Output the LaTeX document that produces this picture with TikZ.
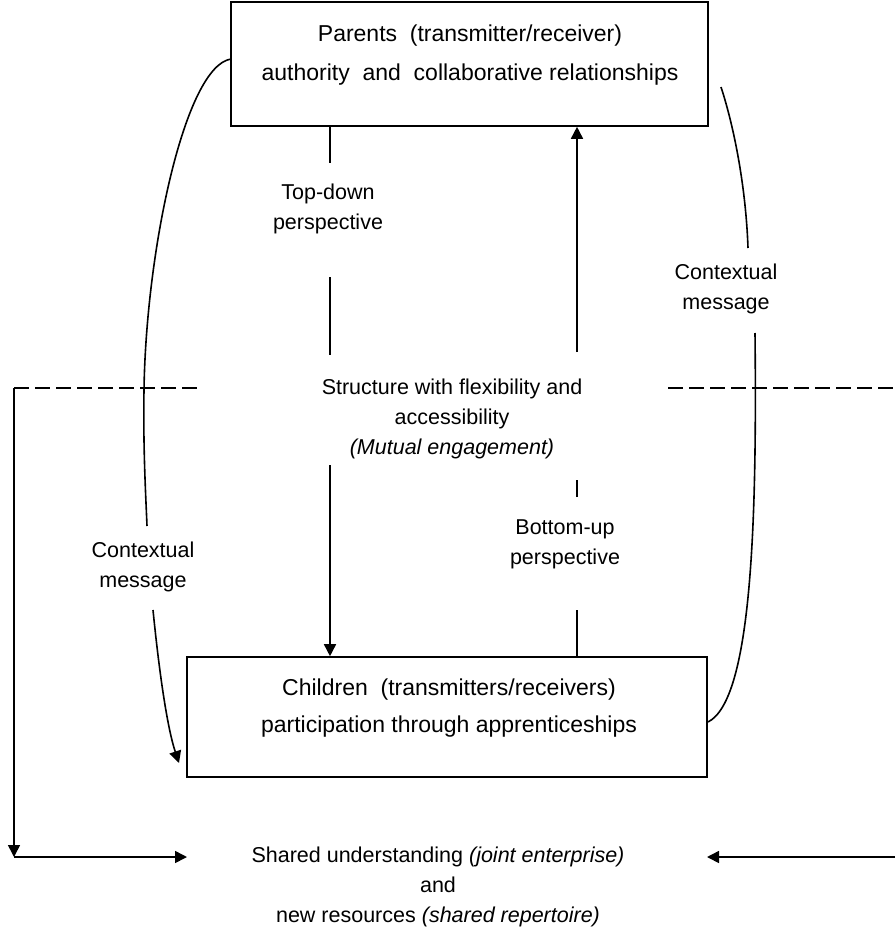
\documentclass[tikz,border=0pt]{standalone}
\usepackage{fontspec}
\setmainfont{Liberation Sans}
\usetikzlibrary{arrows.meta}
\begin{document}
\begin{tikzpicture}[x=1pt,y=-1pt, line width=1.6pt,
  box/.style={draw, line width=1.6pt, inner sep=0pt},
  txt/.style={align=center, inner sep=0pt, font=\fontsize{21.5}{30}\selectfont},
  boxtxt/.style={align=center, inner sep=0pt, font=\fontsize{23}{39}\selectfont},
  arr/.style={-{Triangle[length=12pt,width=12pt]}},
  dsh/.style={dash pattern=on 15pt off 6pt}]
\useasboundingbox (0,0) rectangle (895,934);

% boxes
\node[box, minimum width=477pt, minimum height=124pt] (parents) at (469.5,64) {};
\node[boxtxt] (parentstxt) at (470,55)
  {Parents\ \ (transmitter/receiver)\\authority\ \ and\ \ collaborative relationships};
\node[box, minimum width=520pt, minimum height=120pt] (children) at (447,717) {};
\node[boxtxt, font=\fontsize{23}{37}\selectfont] (childrentxt) at (449,708)
  {Children\ \ (transmitters/receivers)\\participation through apprenticeships};

% labels
\node[txt] (structure) at (452,419)
  {Structure with flexibility and\\accessibility\\\textit{(Mutual engagement)}};
\node[txt] (topdown) at (328,209) {Top-down\\perspective};
\node[txt] (bottomup) at (565,544) {Bottom-up\\perspective};
\node[txt] (ctxleft) at (143,567) {Contextual\\message};
\node[txt] (ctxright) at (726,289) {Contextual\\message};
\node[txt] (shared) at (438,887)
  {Shared understanding \textit{(joint enterprise)}\\and\\new resources \textit{(shared repertoire)}};

% coordinates
\coordinate (td1) at (330,163);
\coordinate (td2) at (330,277);
\coordinate (td3) at (330,355);
\coordinate (td4) at (330,465);
\coordinate (bu1) at (577,610);
\coordinate (bu2) at (577,497);
\coordinate (bu3) at (577,480);
\coordinate (bu4) at (577,352);
\coordinate (lstart) at (231,59);
\coordinate (lmid) at (147,526);
\coordinate (lres) at (153,610);
\coordinate (lend) at (179,763);
\coordinate (rstart) at (721,87);
\coordinate (rmid) at (748,248);
\coordinate (rres) at (755,333);
\coordinate (rend) at (708,722);
\coordinate (dl1) at (14,388);
\coordinate (dl2) at (199,388);
\coordinate (dr1) at (668,388);
\coordinate (dr2) at (895,388);
\coordinate (bl) at (14,857);
\coordinate (al) at (187,857);
\coordinate (br) at (895,857);
\coordinate (ar) at (707,857);

% top-down
\draw (parents.south -| td1) -- (td1);
\draw (td2) -- (td3);
\draw[arr] (td4) -- (children.north -| td4);

% bottom-up
\draw (children.north -| bu1) -- (bu1);
\draw (bu2) -- (bu3);
\draw[arr] (bu4) -- (parents.south -| bu4);

% left contextual message curve
\draw (lstart) .. controls (185,66) and (146,250) .. (144,390)
  .. controls (143,450) and (146,500) .. (lmid);
\draw[arr] (lres) .. controls (160,680) and (168,730) .. (lend);

% right contextual message curve
\draw (rstart) .. controls (735,130) and (746,190) .. (rmid);
\draw (rres) .. controls (757,520) and (752,700) .. (rend);

% dashed lines
\draw[dsh] (dl1) -- (dl2);
\draw[dsh] (dr1) -- (dr2);

% outer arrows
\draw[arr] (dl1) -- (bl);
\draw[arr] (bl) -- (al);
\draw[arr] (br) -- (ar);
\end{tikzpicture}
\end{document}
